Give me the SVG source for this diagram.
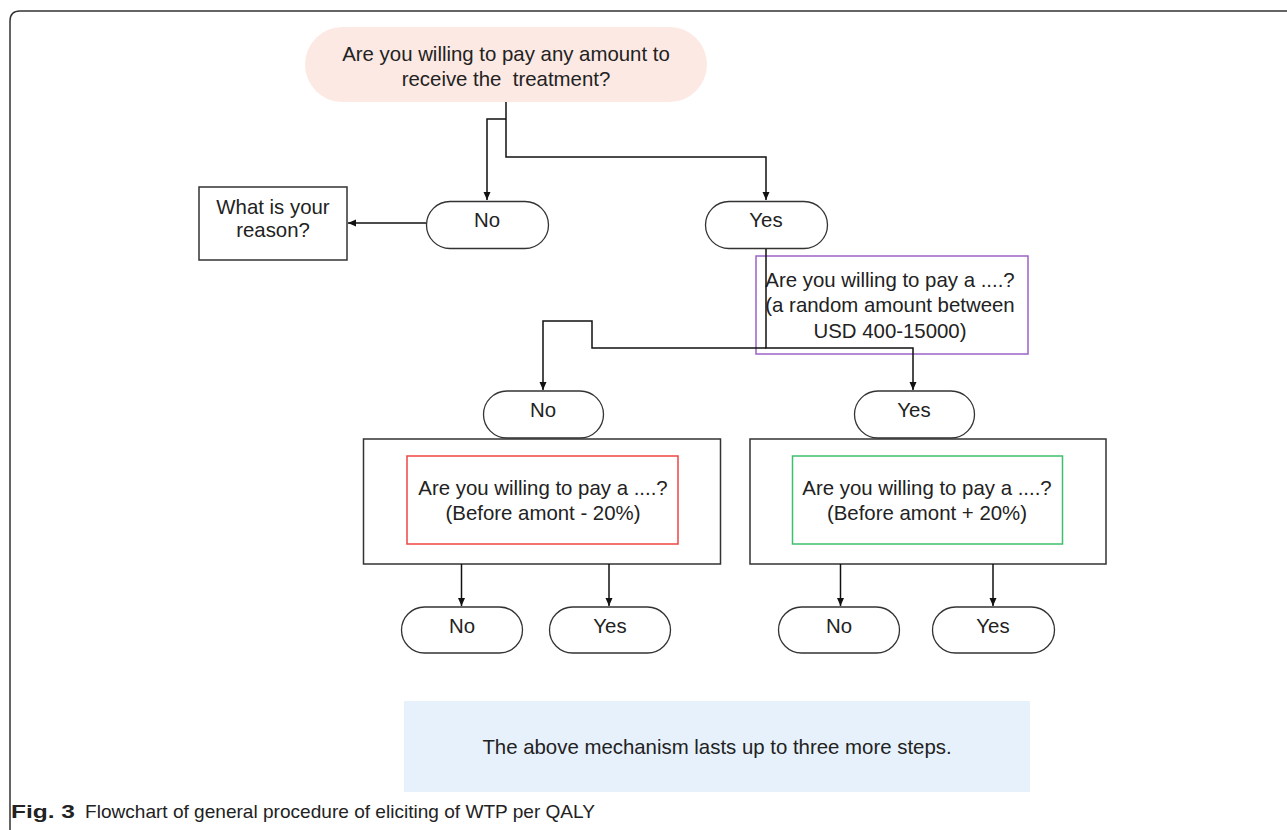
<svg xmlns="http://www.w3.org/2000/svg" width="1287" height="830" viewBox="0 0 1287 830">
<defs>
<marker id="arr" markerWidth="10" markerHeight="10" refX="9" refY="5" orient="auto" markerUnits="userSpaceOnUse">
<path d="M1,1.5 L9,5 L1,8.5 Z" fill="#111"/>
</marker>
<style>
.t{font-family:"Liberation Sans",Arial,sans-serif;font-size:20.4px;fill:#222;text-anchor:middle}
.pill{fill:#fff;stroke:#333;stroke-width:1.3}
.box{fill:#fff;stroke:#333;stroke-width:1.5}
.c{fill:none;stroke:#111;stroke-width:1.5}
.cap{font-family:"Liberation Sans",Arial,sans-serif;font-size:19px;fill:#222}
</style>
</defs>
<rect width="1287" height="830" fill="#fff"/>
<path d="M10,840 V21 Q10,11 20,11 H1290" fill="none" stroke="#333" stroke-width="1.5"/>

<g id="start">
<rect x="305" y="27" width="402" height="75" rx="37.5" fill="#fde9e3"/>
<text class="t" x="506" y="61">Are you willing to pay any amount to</text>
<text class="t" x="506" y="86" xml:space="preserve">receive the  treatment?</text>
</g>

<g id="reason">
<rect class="box" x="199" y="187" width="148" height="73"/>
<text class="t" x="273" y="214">What is your</text>
<text class="t" x="273" y="237">reason?</text>
</g>

<g id="no1"><rect class="pill" x="426.5" y="201.5" width="122" height="47" rx="23.5"/><text class="t" x="487" y="227">No</text></g>
<g id="yes1"><rect class="pill" x="705.5" y="201.5" width="122" height="47" rx="23.5"/><text class="t" x="766" y="227">Yes</text></g>

<g id="q1">
<rect x="756" y="256" width="272" height="98" fill="none" stroke="#9b63c9" stroke-width="1.5"/>
<text class="t" x="890" y="287">Are you willing to pay a ....?</text>
<text class="t" x="890" y="312">(a random amount between</text>
<text class="t" x="890" y="338">USD 400-15000)</text>
</g>

<g id="no2"><rect class="pill" x="483.5" y="391" width="120" height="47" rx="23.5"/><text class="t" x="543" y="417">No</text></g>
<g id="yes2"><rect class="pill" x="854.5" y="391" width="120" height="47" rx="23.5"/><text class="t" x="914" y="417">Yes</text></g>

<g id="frameL"><rect class="box" x="363.5" y="439" width="357" height="125"/></g>
<g id="qL">
<rect x="407" y="456" width="271" height="88" fill="#fff" stroke="#ef4444" stroke-width="1.5"/>
<text class="t" x="543" y="495">Are you willing to pay a ....?</text>
<text class="t" x="543" y="520">(Before amont - 20%)</text>
</g>

<g id="frameR"><rect class="box" x="750" y="439" width="356" height="125"/></g>
<g id="qR">
<rect x="792.5" y="456" width="270" height="88" fill="#fff" stroke="#3dbf6e" stroke-width="1.5"/>
<text class="t" x="927" y="495">Are you willing to pay a ....?</text>
<text class="t" x="927" y="520">(Before amont + 20%)</text>
</g>

<g id="no3"><rect class="pill" x="401.5" y="607" width="121" height="46" rx="23"/><text class="t" x="462" y="633">No</text></g>
<g id="yes3"><rect class="pill" x="549.5" y="607" width="121" height="46" rx="23"/><text class="t" x="610" y="633">Yes</text></g>
<g id="no4"><rect class="pill" x="778.5" y="607" width="121" height="46" rx="23"/><text class="t" x="839" y="633">No</text></g>
<g id="yes4"><rect class="pill" x="932.5" y="607" width="122" height="46" rx="23"/><text class="t" x="993" y="633">Yes</text></g>

<g id="note">
<rect x="404" y="701" width="626" height="91" fill="#e7f1fb"/>
<text class="t" x="717" y="754">The above mechanism lasts up to three more steps.</text>
</g>

<g id="connectors">
<path class="c" d="M506,102 V157 H766 V200" marker-end="url(#arr)"/>
<path class="c" d="M506,119 H487 V200" marker-end="url(#arr)"/>
<path class="c" d="M426,223 H348" marker-end="url(#arr)"/>
<path class="c" d="M766,249 V348 H913 V390" marker-end="url(#arr)"/>
<path class="c" d="M766,348 H592 V321 H543 V390" marker-end="url(#arr)"/>
<path class="c" d="M461.5,564 V606" marker-end="url(#arr)"/>
<path class="c" d="M609,564 V606" marker-end="url(#arr)"/>
<path class="c" d="M840.5,564 V606" marker-end="url(#arr)"/>
<path class="c" d="M993,564 V606" marker-end="url(#arr)"/>
</g>

<g id="caption">
<text class="cap" x="11" y="818" font-weight="bold" textLength="64" lengthAdjust="spacingAndGlyphs">Fig. 3</text>
<text class="cap" x="85" y="818" textLength="510" lengthAdjust="spacingAndGlyphs">Flowchart of general procedure of eliciting of WTP per QALY</text>
</g>
</svg>
